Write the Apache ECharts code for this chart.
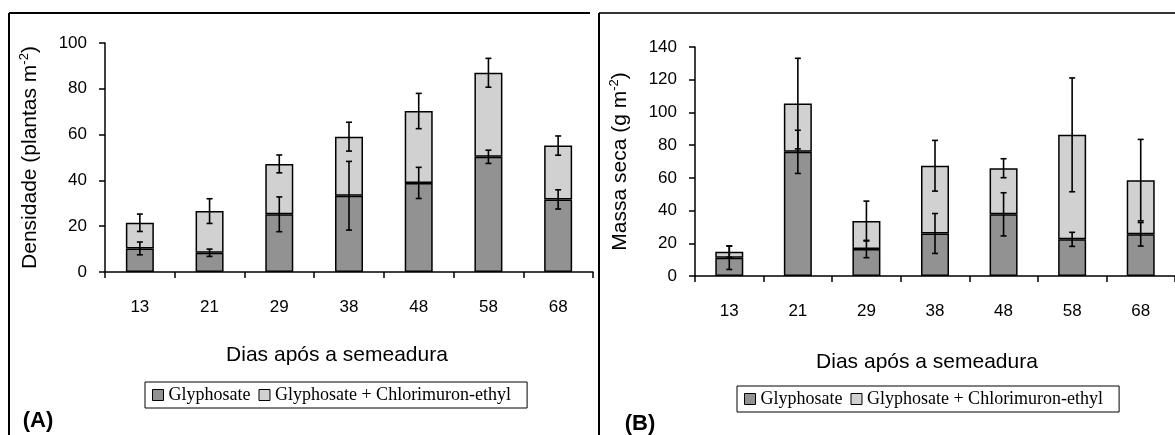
<!DOCTYPE html>
<html>
<head>
<meta charset="utf-8">
<script src="https://cdn.jsdelivr.net/npm/echarts@6/dist/echarts.min.js"></script>
<style>
html,body{margin:0;padding:0;background:#fff;}
#chart{width:1175px;height:435px;}
</style>
</head>
<body>
<div id="chart"></div>
<script>
// dias apos a semeadura
var days = ['13', '21', '29', '38', '48', '58', '68'];
var nomeGly = 'Glyphosate';
var nomeMix = 'Glyphosate + Chlorimuron-ethyl';

// (A) densidade - parte escura e parte clara (empilhada)
var densGly = [10.3, 8.4, 25.2, 33.3, 38.9, 50.3, 31.7];
var densMix = [11.2, 18.2, 22.0, 25.8, 31.4, 36.7, 23.5];
var densGlyErr = [2.8, 1.6, 7.6, 15.0, 6.8, 2.9, 4.2];
var densMixErr = [3.8, 5.4, 3.9, 6.3, 7.7, 6.3, 4.2];

// (B) massa seca
var massGly = [11.2, 75.9, 16.5, 26.0, 37.7, 22.4, 25.5];
var massMix = [3.6, 29.5, 17.1, 41.4, 28.2, 63.9, 33.1];
var massGlyErr = [7.2, 13.2, 5.3, 12.2, 13.2, 4.3, 7.2];
var massMixErr = [3.5, 27.7, 12.2, 15.5, 5.8, 34.8, 24.9];

var corEscuro = '#929292';
var corClaro = '#d1d1d1';
var fonte = 'Liberation Sans, Arial, sans-serif';
var fonteLeg = 'Liberation Serif, Times New Roman, serif';

//monta barras de erro: [indice, baixo, alto]
function erros(base, add, err) {
	var r = [];
	for (var i = 0; i < base.length; i++) {
		var c = base[i] + (add ? add[i] : 0);
		r.push([i, c - err[i], c + err[i]]);
	}
	return r;
}

function desenhaErro(params, api) {
	var lo = api.coord([api.value(0), api.value(1)]);
	var hi = api.coord([api.value(0), api.value(2)]);
	var cap = 3;
	var st = { stroke: '#000', lineWidth: 1.6 };
	return {
		type: 'group',
		children: [
			{ type: 'line', shape: { x1: hi[0], y1: hi[1], x2: lo[0], y2: lo[1] }, style: st },
			{ type: 'line', shape: { x1: hi[0] - cap, y1: hi[1], x2: hi[0] + cap, y2: hi[1] }, style: st },
			{ type: 'line', shape: { x1: lo[0] - cap, y1: lo[1], x2: lo[0] + cap, y2: lo[1] }, style: st }
		]
	};
}

function eixoX(idx) {
	return {
		type: 'category',
		gridIndex: idx,
		data: days,
		boundaryGap: true,
		axisLine: { lineStyle: { color: '#000', width: 1.5 } },
		axisTick: { show: true, length: 6, lineStyle: { color: '#000', width: 1.5 } },
		axisLabel: { color: '#000', fontSize: 17, fontFamily: fonte, margin: 27 },
		splitLine: { show: false }
	};
}

function eixoY(idx, max, nome, gap) {
	return {
		type: 'value',
		gridIndex: idx,
		min: 0,
		max: max,
		interval: 20,
		name: nome,
		nameLocation: 'middle',
		nameRotate: 90,
		nameGap: gap,
		nameTextStyle: {
			color: '#000', fontSize: 21, fontFamily: fonte, lineHeight: 24,
			rich: { sup: { fontSize: 13, fontFamily: fonte, verticalAlign: 'top', lineHeight: 24, color: '#000' } }
		},
		axisLine: { show: true, lineStyle: { color: '#000', width: 1.5 } },
		axisTick: { show: true, length: 6, lineStyle: { color: '#000', width: 1.5 } },
		axisLabel: { color: '#000', fontSize: 17, fontFamily: fonte, margin: 18 },
		splitLine: { show: false }
	};
}

function barra(nome, dados, cor, idx) {
	return {
		name: nome,
		type: 'bar',
		stack: 'p' + idx,
		xAxisIndex: idx,
		yAxisIndex: idx,
		barWidth: 28,
		itemStyle: { color: cor, borderColor: '#000', borderWidth: 1.5 },
		data: dados
	};
}

function erro(dados, idx) {
	return {
		type: 'custom',
		xAxisIndex: idx,
		yAxisIndex: idx,
		z: 10,
		silent: true,
		renderItem: desenhaErro,
		data: dados
	};
}

function legenda(left, top) {
	return {
		left: left,
		top: top,
		data: [nomeGly, nomeMix],
		icon: 'rect',
		itemWidth: 11,
		itemHeight: 11,
		itemGap: 8,
		padding: [4, 16, 4, 7],
		borderColor: '#000',
		borderWidth: 1,
		itemStyle: { borderWidth: 1, borderColor: '#000' },
		textStyle: { color: '#000', fontSize: 18, fontFamily: fonteLeg }
	};
}

function linha(x1, y1, x2, y2, w, cor) {
	return { type: 'line', silent: true, shape: { x1: x1, y1: y1, x2: x2, y2: y2 }, style: { stroke: cor || '#000', lineWidth: w } };
}

function texto(x, y, t, size, peso) {
	return {
		type: 'text', x: x, y: y, silent: true,
		style: { text: t, fill: '#000', font: (peso || 'normal') + ' ' + size + 'px ' + fonte, align: 'center', verticalAlign: 'middle' }
	};
}

var myChart = echarts.init(document.getElementById('chart'));
var option = {
	animation: false,
	backgroundColor: '#fff',
	grid: [
		{ left: 105, top: 43, width: 488, height: 229 },
		{ left: 695, top: 47, width: 489, height: 229 }
	],
	xAxis: [eixoX(0), eixoX(1)],
	yAxis: [
		eixoY(0, 100, 'Densidade (plantas m{sup|-2})', 63),
		eixoY(1, 140, 'Massa seca (g m{sup|-2})', 63)
	],
	legend: [legenda(145, 382), legenda(737, 386)],
	series: [
		barra(nomeGly, densGly, corEscuro, 0),
		barra(nomeMix, densMix, corClaro, 0),
		erro(erros(densGly, null, densGlyErr), 0),
		erro(erros(densGly, densMix, densMixErr), 0),
		barra(nomeGly, massGly, corEscuro, 1),
		barra(nomeMix, massMix, corClaro, 1),
		erro(erros(massGly, null, massGlyErr), 1),
		erro(erros(massGly, massMix, massMixErr), 1)
	],
	graphic: [
		// molduras dos paineis
		linha(9, 13, 590, 13, 2),
		linha(9, 13, 9, 435, 2),
		linha(599, 13, 1175, 13, 2, '#333'),
		linha(599, 13, 599, 435, 2),
		// titulos dos eixos x
		texto(337, 355, 'Dias após a semeadura', 21),
		texto(927, 362, 'Dias após a semeadura', 21),
		// letras dos paineis
		texto(38, 421, '(A)', 22, 'bold'),
		texto(640, 424, '(B)', 22, 'bold')
	]
};
myChart.setOption(option);
</script>
</body>
</html>
